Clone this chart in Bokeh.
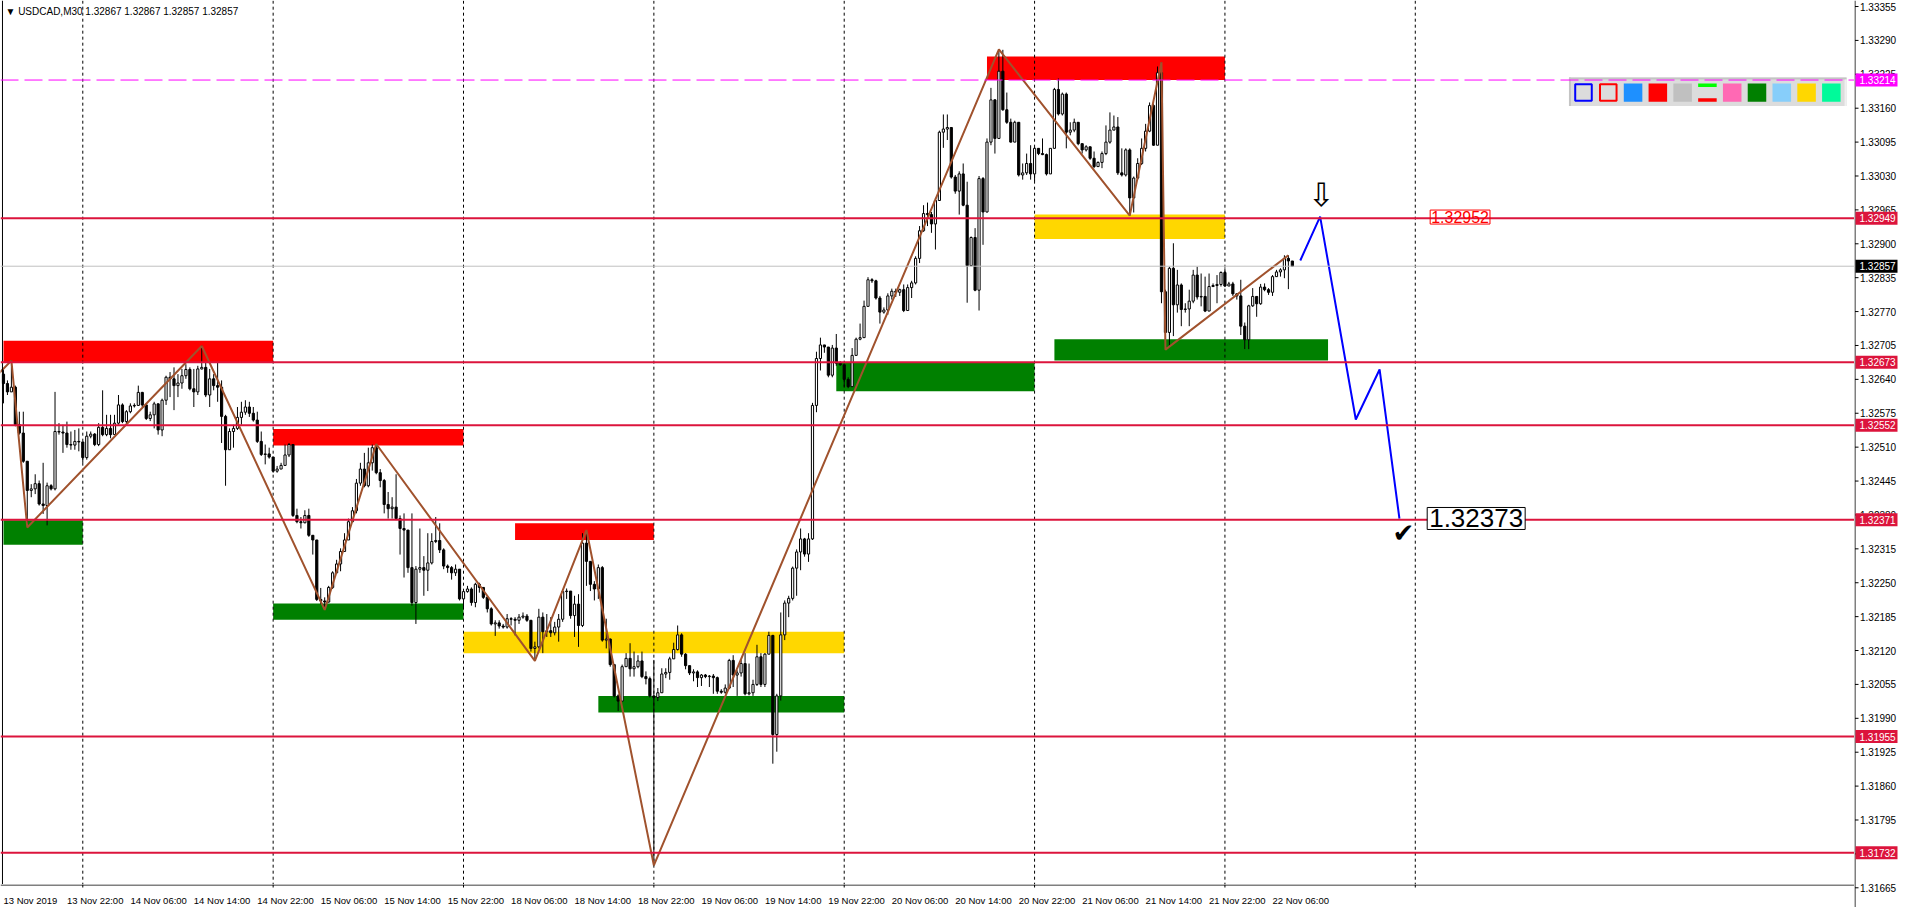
import numpy as np
from bokeh.plotting import figure
from bokeh.layouts import row, column
from bokeh.models import Range1d, Span, Label, ColumnDataSource
from bokeh.core.properties import value
from bokeh.embed import file_html
from bokeh.resources import INLINE

# ---------------- DATA (prices written as 1 + v * 1e-5, e.g. 32857 -> 1.32857) --------------
FIRST_OPEN = 32650
CLOSE = [
    32632, 32616, 32625, 32553, 32537, 32483, 32427, 32430, 32440, 32401,
    32398, 32436, 32430, 32540, 32539, 32537, 32515, 32514, 32521, 32520,
    32490, 32531, 32535, 32515, 32548, 32534, 32546, 32534, 32556, 32591,
    32559, 32578, 32589, 32590, 32615, 32591, 32565, 32572, 32593, 32543,
    32600, 32644, 32641, 32628, 32633, 32647, 32659, 32622, 32616, 32660,
    32663, 32610, 32641, 32628, 32625, 32569, 32505, 32540, 32546, 32567,
    32577, 32587, 32575, 32562, 32521, 32496, 32497, 32491, 32464, 32468,
    32475, 32495, 32515, 32379, 32367, 32365, 32379, 32341, 32332, 32218,
    32215, 32213, 32241, 32269, 32286, 32310, 32332, 32367, 32388, 32441,
    32468, 32436, 32480, 32509, 32461, 32446, 32400, 32392, 32395, 32373,
    32354, 32351, 32279, 32212, 32276, 32279, 32274, 32288, 32329, 32331,
    32313, 32282, 32279, 32269, 32276, 32219, 32233, 32238, 32212, 32247,
    32241, 32222, 32200, 32171, 32173, 32167, 32165, 32181, 32180, 32178,
    32184, 32186, 32178, 32124, 32127, 32184, 32156, 32158, 32154, 32165,
    32180, 32233, 32234, 32187, 32209, 32168, 32326, 32291, 32247, 32238,
    32279, 32140, 32142, 32093, 32033, 32023, 32089, 32105, 32085, 32089,
    32100, 32070, 32066, 32033, 32030, 32039, 32075, 32078, 32104, 32122,
    32150, 32113, 32091, 32077, 32079, 32068, 32073, 32070, 32071, 32068,
    32042, 32040, 32048, 32101, 32073, 32077, 32095, 32037, 32039, 32055,
    32108, 32055, 32113, 32149, 31959, 32033, 32150, 32211, 32220, 32278,
    32309, 32334, 32305, 32334, 32590, 32680, 32706, 32702, 32648, 32700,
    32671, 32668, 32640, 32626, 32686, 32717, 32720, 32780, 32831, 32829,
    32796, 32769, 32773, 32800, 32809, 32807, 32812, 32772, 32816, 32825,
    32872, 32925, 32958, 32956, 32938, 32983, 33114, 33120, 33123, 33028,
    33001, 33034, 32974, 32858, 32912, 32811, 33025, 32961, 33095, 33176,
    33102, 33231, 33157, 33133, 33095, 33133, 33032, 33036, 33054, 33034,
    33083, 33073, 33071, 33034, 33083, 33196, 33149, 33187, 33114, 33118,
    33133, 33092, 33080, 33086, 33064, 33048, 33056, 33073, 33095, 33118,
    33124, 33036, 33032, 33080, 32988, 33026, 33054, 33083, 33116, 33165,
    33089, 33228, 32808, 32730, 32853, 32783, 32821, 32774, 32775, 32790,
    32840, 32798, 32799, 32771, 32818, 32820, 32822, 32845, 32819, 32823,
    32804, 32800, 32742, 32716, 32781, 32799, 32785, 32817, 32812, 32807,
    32837, 32846, 32850, 32872, 32867, 32857]
HIGH = [
    32660, 32638, 32676, 32628, 32578, 32578, 32483, 32439, 32458, 32446,
    32480, 32442, 32439, 32616, 32556, 32553, 32559, 32540, 32543, 32546,
    32515, 32540, 32540, 32537, 32556, 32619, 32572, 32572, 32572, 32610,
    32594, 32581, 32594, 32594, 32628, 32616, 32594, 32578, 32597, 32594,
    32603, 32647, 32654, 32663, 32650, 32660, 32669, 32663, 32660, 32666,
    32705, 32673, 32660, 32650, 32673, 32638, 32572, 32546, 32553, 32587,
    32597, 32600, 32597, 32587, 32578, 32540, 32515, 32509, 32474, 32474,
    32480, 32515, 32518, 32515, 32392, 32376, 32389, 32392, 32341, 32332,
    32240, 32222, 32244, 32272, 32294, 32316, 32345, 32373, 32395, 32449,
    32480, 32499, 32509, 32515, 32516, 32468, 32449, 32424, 32414, 32458,
    32379, 32383, 32351, 32383, 32282, 32354, 32301, 32345, 32345, 32376,
    32364, 32316, 32285, 32282, 32285, 32276, 32238, 32244, 32241, 32250,
    32250, 32241, 32225, 32203, 32178, 32178, 32171, 32190, 32184, 32184,
    32190, 32193, 32190, 32178, 32137, 32200, 32193, 32190, 32184, 32175,
    32190, 32238, 32239, 32231, 32225, 32228, 32345, 32351, 32291, 32253,
    32285, 32282, 32181, 32143, 32093, 32036, 32093, 32115, 32134, 32118,
    32111, 32118, 32080, 32070, 32102, 32048, 32086, 32086, 32108, 32135,
    32168, 32153, 32115, 32091, 32084, 32082, 32075, 32075, 32073, 32075,
    32070, 32046, 32055, 32104, 32111, 32082, 32102, 32115, 32095, 32064,
    32131, 32115, 32115, 32156, 32150, 32037, 32193, 32216, 32225, 32281,
    32314, 32354, 32336, 32345, 32595, 32693, 32720, 32706, 32702, 32706,
    32727, 32675, 32666, 32644, 32700, 32720, 32747, 32791, 32836, 32834,
    32831, 32800, 32778, 32805, 32814, 32814, 32814, 32822, 32822, 32829,
    32876, 32934, 32974, 32979, 32961, 32988, 33117, 33148, 33148, 33121,
    33032, 33039, 33054, 33019, 32914, 32930, 33030, 33028, 33102, 33199,
    33177, 33273, 33272, 33190, 33140, 33136, 33133, 33054, 33073, 33089,
    33086, 33077, 33102, 33073, 33083, 33199, 33217, 33190, 33190, 33133,
    33140, 33133, 33089, 33089, 33086, 33077, 33058, 33077, 33127, 33152,
    33146, 33143, 33083, 33083, 33083, 33029, 33064, 33102, 33130, 33171,
    33168, 33240, 33248, 32812, 32856, 32901, 32850, 32824, 32786, 32812,
    32850, 32856, 32843, 32837, 32843, 32824, 32840, 32847, 32853, 32827,
    32827, 32805, 32831, 32749, 32783, 32815, 32799, 32823, 32824, 32815,
    32840, 32850, 32853, 32878, 32878, 32867]
LOW = [
    32594, 32610, 32616, 32550, 32534, 32480, 32356, 32414, 32420, 32398,
    32382, 32360, 32427, 32427, 32534, 32499, 32509, 32505, 32505, 32502,
    32480, 32486, 32527, 32512, 32512, 32531, 32531, 32527, 32540, 32553,
    32556, 32554, 32575, 32586, 32589, 32587, 32562, 32560, 32546, 32534,
    32531, 32591, 32606, 32581, 32606, 32622, 32641, 32619, 32587, 32610,
    32659, 32606, 32587, 32619, 32597, 32518, 32436, 32505, 32509, 32543,
    32553, 32572, 32568, 32559, 32518, 32493, 32477, 32488, 32461, 32461,
    32471, 32474, 32491, 32376, 32364, 32354, 32364, 32338, 32304, 32215,
    32209, 32198, 32212, 32238, 32272, 32272, 32320, 32345, 32367, 32383,
    32436, 32433, 32433, 32465, 32458, 32433, 32383, 32373, 32373, 32370,
    32304, 32260, 32269, 32206, 32171, 32269, 32225, 32234, 32285, 32326,
    32307, 32276, 32269, 32256, 32263, 32216, 32200, 32231, 32206, 32203,
    32231, 32219, 32193, 32168, 32148, 32162, 32162, 32162, 32168, 32149,
    32171, 32181, 32175, 32118, 32100, 32124, 32115, 32146, 32146, 32149,
    32137, 32175, 32219, 32181, 32146, 32127, 32165, 32244, 32234, 32216,
    32219, 32137, 32124, 32089, 32030, 32004, 32045, 32089, 32070, 32070,
    32086, 32067, 32055, 32030, 31708, 32023, 32050, 32067, 32064, 32104,
    32120, 32108, 32084, 32073, 32061, 32050, 32052, 32067, 32050, 32037,
    32037, 32037, 32037, 32046, 32050, 32033, 32070, 32034, 32034, 32033,
    32052, 32050, 32050, 32113, 31903, 31926, 32024, 32140, 32184, 32216,
    32225, 32274, 32300, 32290, 32332, 32577, 32657, 32691, 32644, 32644,
    32666, 32666, 32626, 32623, 32626, 32686, 32715, 32720, 32782, 32825,
    32793, 32747, 32766, 32764, 32793, 32798, 32800, 32769, 32772, 32796,
    32822, 32863, 32923, 32934, 32921, 32889, 32983, 33084, 33099, 33025,
    32996, 32956, 32972, 32787, 32858, 32809, 32772, 32898, 32960, 33089,
    33073, 33102, 33155, 33130, 33094, 33095, 33029, 33023, 33032, 33023,
    33020, 33070, 33070, 33031, 33035, 33086, 33146, 33146, 33083, 33108,
    33114, 33089, 33073, 33077, 33061, 33045, 33053, 33045, 33070, 33092,
    33121, 33032, 33029, 33029, 32954, 32960, 33023, 33051, 33077, 33114,
    33088, 33165, 32786, 32697, 32701, 32723, 32768, 32742, 32768, 32742,
    32786, 32793, 32780, 32769, 32771, 32817, 32786, 32818, 32817, 32819,
    32800, 32793, 32725, 32698, 32698, 32779, 32760, 32783, 32809, 32802,
    32800, 32842, 32837, 32834, 32813, 32857]

# time axis (bar index -> label)
TIME_TICK_BARS = [0, 16, 32, 48, 64, 80, 96, 112, 128, 144, 160, 176, 192, 208,
                  224, 240, 256, 272, 288, 304, 320]
TIME_TICK_LABELS = ["13 Nov 2019", "13 Nov 22:00", "14 Nov 06:00", "14 Nov 14:00",
                    "14 Nov 22:00", "15 Nov 06:00", "15 Nov 14:00", "15 Nov 22:00",
                    "18 Nov 06:00", "18 Nov 14:00", "18 Nov 22:00", "19 Nov 06:00",
                    "19 Nov 14:00", "19 Nov 22:00", "20 Nov 06:00", "20 Nov 14:00",
                    "20 Nov 22:00", "21 Nov 06:00", "21 Nov 14:00", "21 Nov 22:00",
                    "22 Nov 06:00"]
DAY_GRID_BARS = [20, 68, 116, 164, 212, 260, 308, 356]
PRICE_TICKS = [1.33355, 1.33290, 1.33225, 1.33160, 1.33095, 1.33030, 1.32965,
               1.32900, 1.32835, 1.32770, 1.32705, 1.32640, 1.32575, 1.32510,
               1.32445, 1.32380, 1.32315, 1.32250, 1.32185, 1.32120, 1.32055,
               1.31990, 1.31925, 1.31860, 1.31795, 1.31730, 1.31665]

# levels
RED_LEVELS = [1.32949, 1.32673, 1.32552, 1.32371, 1.31955, 1.31732]
MAGENTA_LEVEL = 1.33214
BID_LEVEL = 1.32857

# zones: bar-index from/to, price bottom/top, colour
ZONE_FROM = [0, 0, 68, 68, 129, 116, 150, 210, 248, 260, 265]
ZONE_TO = [68, 20, 116, 116, 164, 212, 212, 260, 308, 308, 334]
ZONE_BOTTOM = [1.32673, 1.32323, 1.32513, 1.32179, 1.32332, 1.32115, 1.32001,
               1.32617, 1.33214, 1.32909, 1.32676]
ZONE_TOP = [1.32714, 1.32370, 1.32545, 1.32210, 1.32364, 1.32156, 1.32033,
            1.32673, 1.33259, 1.32956, 1.32717]
ZONE_COLOR = ["#FF0000", "#008000", "#FF0000", "#008000", "#FF0000", "#FFD700",
              "#008000", "#008000", "#FF0000", "#FFD700", "#008000"]

# zigzag
ZZ_BAR = [-2, 2, 6, 50, 81, 94, 134, 147, 164, 251, 284, 292, 293, 324]
ZZ_PRICE = [1.32645, 1.32676, 1.32356, 1.32704, 1.32198, 1.32516, 1.32100, 1.32351,
            1.31708, 1.33273, 1.32954, 1.33248, 1.32697, 1.32878]
# projected path
PROJ_BAR = [327, 332, 341, 347, 352]
PROJ_PRICE = [1.32868, 1.32952, 1.32563, 1.32659, 1.32373]

PALETTE_FILL = ["#DCDCDC", "#DCDCDC", "#1E90FF", "#FF0000", "#C0C0C0", "#DCDCDC",
                "#FF69B4", "#008000", "#87CEFA", "#FFD700", "#00FA9A"]
PALETTE_LINE = ["#0000FF", "#FF0000", None, None, None, None, None, None, None, None, None]

# ---------------- helpers: reference-pixel -> data coordinates ----------------
def xd(px):
    return (px - 3.0) / 4.0

def yd(py):
    return 1.33355 - (py - 6.1) * 1.892e-5

n = len(CLOSE)
assert len(HIGH) == n and len(LOW) == n, (len(CLOSE), len(HIGH), len(LOW))

c = np.array(CLOSE) * 1e-5 + 1.0
o = np.concatenate([[FIRST_OPEN], CLOSE[:-1]]) * 1e-5 + 1.0
h = np.maximum.reduce([np.array(HIGH) * 1e-5 + 1.0, o, c])
l = np.minimum.reduce([np.array(LOW) * 1e-5 + 1.0, o, c])
x = np.arange(n)

src = ColumnDataSource(dict(
    x=x, high=h, low=l,
    top=np.maximum(o, c), bottom=np.minimum(o, c),
    fill=["white" if cc >= oo else "black" for oo, cc in zip(o, c)]))

W_MAIN, H_MAIN = 1854, 884
W_AX, H_AX = 46, 23
FONT = "Liberation Sans"

X_START, X_END = xd(0), xd(1870)
Y_START, Y_END = yd(896), yd(0)
PX_PRICE = (Y_END - Y_START) / H_MAIN   # price per screen pixel

p = figure(width=W_MAIN, height=H_MAIN,
           x_range=Range1d(X_START, X_END), y_range=Range1d(Y_START, Y_END),
           output_backend="svg", toolbar_location=None,
           x_axis_location=None, y_axis_location=None, min_border=0,
           background_fill_color="white", border_fill_color="white")
p.outline_line_color = None
p.grid.visible = False

# zones
p.quad(left=ZONE_FROM, right=ZONE_TO, bottom=ZONE_BOTTOM, top=ZONE_TOP,
       fill_color=ZONE_COLOR, line_color=None)

# day grid (dashed verticals)
p.segment(x0=DAY_GRID_BARS, x1=DAY_GRID_BARS, y0=[1.3160] * len(DAY_GRID_BARS),
          y1=[1.3340] * len(DAY_GRID_BARS), line_color="black", line_width=1,
          line_dash="3 3")

# candles
p.segment(x0="x", x1="x", y0="low", y1="high", source=src, line_color="black", line_width=1)
p.vbar(x="x", width=0.55, top="top", bottom="bottom", fill_color="fill",
       line_color="black", line_width=1, source=src)

# palette panel (top right)
p.quad(left=[xd(1582)], right=[xd(1862)], top=[yd(78)], bottom=[yd(107)],
       fill_color="#DCDCDC", line_color=None)
p.quad(left=[xd(1582), xd(1582), xd(1860)], right=[xd(1862), xd(1584), xd(1862)],
       top=[yd(78), yd(78), yd(80)], bottom=[yd(80), yd(107), yd(107)],
       fill_color=["#C4C4C4", "#C4C4C4", "#F0F0F0"], line_color=None)
for k, (fc, lc) in enumerate(zip(PALETTE_FILL, PALETTE_LINE)):
    x0 = 1587.3 + 25 * k
    if k == 5:
        p.quad(left=[xd(x0)], right=[xd(x0 + 18.7)], top=[yd(84)], bottom=[yd(87.7)],
               fill_color="#00FF00", line_color=None)
        p.quad(left=[xd(x0)], right=[xd(x0 + 18.7)], top=[yd(99)], bottom=[yd(102.7)],
               fill_color="#FF0000", line_color=None)
        continue
    d = 1 if lc else 0
    p.quad(left=[xd(x0 + d)], right=[xd(x0 + 18.7 - d)],
           top=[yd(84 + d)], bottom=[yd(102.7 - d)],
           fill_color=fc, line_color=lc, line_width=2 if lc else 0)

# zigzag + projection
p.line(ZZ_BAR, ZZ_PRICE, line_color="#A0522D", line_width=2)
p.line(PROJ_BAR, PROJ_PRICE, line_color="#0000FF", line_width=2)

# left border
p.add_layout(Span(location=xd(2), dimension="height", line_color="black", line_width=1))

# horizontal levels
for lv in RED_LEVELS:
    p.add_layout(Span(location=lv, dimension="width", line_color="#DC143C", line_width=2))
p.add_layout(Span(location=MAGENTA_LEVEL, dimension="width", line_color="#FF00FF",
                  line_width=1, line_dash="18 6"))
p.add_layout(Span(location=BID_LEVEL, dimension="width", line_color="#C0C0C0", line_width=1))

# title
p.add_layout(Label(x=xd(5), y=yd(11), text="▼ USDCAD,M30  1.32867 1.32867 1.32857 1.32857",
                   text_align="left", text_baseline="middle", text_color="black",
                   text_font=FONT, text_font_size="10px"))

# annotations
p.add_layout(Label(x=xd(1442), y=yd(219.5), text="1.32952", text_align="left",
                   text_baseline="middle", text_color="#FF0000", text_font=FONT,
                   text_font_size="16px", border_line_color="#FF0000", border_line_width=1,
                   padding=1))
p.add_layout(Label(x=xd(1439), y=yd(525), text="1.32373", text_align="left",
                   text_baseline="middle", text_color="black", text_font=FONT,
                   text_font_size="26px", border_line_color="black", border_line_width=1,
                   background_fill_color="white", background_fill_alpha=1.0, padding=2))
p.add_layout(Label(x=xd(1415), y=yd(540), text="✔", text_align="center",
                   text_baseline="middle", text_color="black", text_font="DejaVu Sans",
                   text_font_size="26px"))
p.add_layout(Label(x=xd(1332), y=yd(197), text="⇩", text_align="center",
                   text_baseline="middle", text_color="black", text_font="DejaVu Sans",
                   text_font_size="32px"))

# ---------------- price scale panel (right) ----------------
H_Y = H_MAIN + H_AX
yfig = figure(width=W_AX, height=H_Y, x_range=Range1d(0, W_AX),
              y_range=Range1d(Y_START - H_AX * PX_PRICE, Y_END),
              output_backend="svg", toolbar_location=None,
              x_axis_location=None, y_axis_location=None, min_border=0,
              background_fill_color="white", border_fill_color="white")
yfig.outline_line_color = None
yfig.grid.visible = False
yfig.segment(x0=[0.5], x1=[0.5], y0=[Y_START - H_AX * PX_PRICE], y1=[Y_END],
             line_color="black", line_width=1)
yfig.segment(x0=[0.5] * len(PRICE_TICKS), x1=[4] * len(PRICE_TICKS),
             y0=PRICE_TICKS, y1=PRICE_TICKS, line_color="black", line_width=1)
yfig.text(x=[5.5] * len(PRICE_TICKS), y=PRICE_TICKS,
          text=[f"{t:.5f}" for t in PRICE_TICKS], text_align="left",
          text_baseline="middle", text_font=value(FONT), text_font_size="10px",
          text_color="black")
tags = [(MAGENTA_LEVEL, "#FF00FF"), (RED_LEVELS[0], "#DC143C"), (BID_LEVEL, "#000000")] + \
       [(lv, "#DC143C") for lv in RED_LEVELS[1:]]
tag_y = [t[0] for t in tags]
yfig.quad(left=[1] * len(tags), right=[43] * len(tags),
          top=[v + 6.5 * PX_PRICE for v in tag_y], bottom=[v - 6.5 * PX_PRICE for v in tag_y],
          fill_color=[t[1] for t in tags], line_color=None)
yfig.text(x=[5] * len(tags), y=tag_y, text=[f"{v:.5f}" for v in tag_y],
          text_align="left", text_baseline="middle", text_font=value(FONT),
          text_font_size="10px", text_color="white")

# ---------------- time scale panel (bottom) ----------------
xfig = figure(width=W_MAIN, height=H_AX, x_range=p.x_range, y_range=Range1d(H_AX, 0),
              output_backend="svg", toolbar_location=None,
              x_axis_location=None, y_axis_location=None, min_border=0,
              background_fill_color="white", border_fill_color="white")
xfig.outline_line_color = None
xfig.grid.visible = False
xfig.segment(x0=[X_START], x1=[X_END], y0=[0.5], y1=[0.5], line_color="black", line_width=1)
xfig.segment(x0=DAY_GRID_BARS, x1=DAY_GRID_BARS, y0=[0] * len(DAY_GRID_BARS),
             y1=[3] * len(DAY_GRID_BARS), line_color="black", line_width=1)
xfig.text(x=TIME_TICK_BARS, y=[15.5] * len(TIME_TICK_BARS),
          text=TIME_TICK_LABELS, text_align="left", text_baseline="middle",
          text_font=value(FONT), text_font_size="9.5px", text_color="black")

layout = row(column(p, xfig, spacing=0), yfig, spacing=0)
open("out.html", "w").write(file_html(layout, INLINE))
